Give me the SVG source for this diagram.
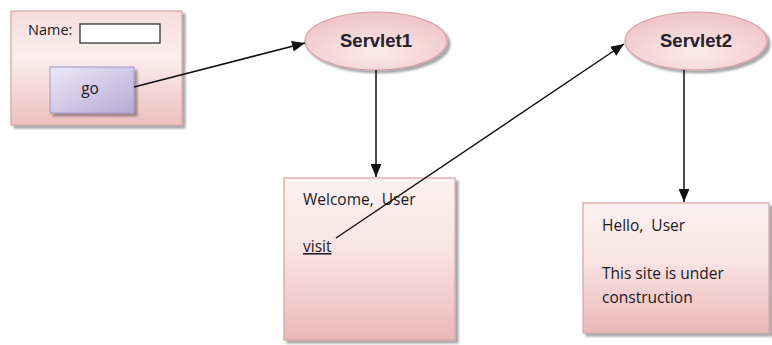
<svg xmlns="http://www.w3.org/2000/svg" width="772" height="345" viewBox="0 0 772 345">
<defs>
  <linearGradient id="boxG" x1="0" y1="0" x2="0" y2="1">
    <stop offset="0" stop-color="#fcf1f1"/>
    <stop offset="0.45" stop-color="#f9e3e3"/>
    <stop offset="1" stop-color="#ebb8b8"/>
  </linearGradient>
  <linearGradient id="box1G" x1="0" y1="0" x2="0" y2="1">
    <stop offset="0" stop-color="#f6dcdc"/>
    <stop offset="0.4" stop-color="#fbeeee"/>
    <stop offset="1" stop-color="#eebfbf"/>
  </linearGradient>
  <radialGradient id="ellG" cx="0.5" cy="0.7" r="0.7">
    <stop offset="0" stop-color="#fbeaea"/>
    <stop offset="1" stop-color="#efc3c4"/>
  </radialGradient>
  <linearGradient id="btnG" x1="0" y1="0" x2="1" y2="1">
    <stop offset="0" stop-color="#ece8f6"/>
    <stop offset="1" stop-color="#b6aad6"/>
  </linearGradient>
  <filter id="sh" x="-10%" y="-10%" width="125%" height="125%">
    <feGaussianBlur in="SourceAlpha" stdDeviation="1.2"/>
    <feOffset dx="2.5" dy="2.5" result="o"/>
    <feComponentTransfer><feFuncA type="linear" slope="0.35"/></feComponentTransfer>
    <feMerge><feMergeNode/><feMergeNode in="SourceGraphic"/></feMerge>
  </filter>
  <marker id="arr" viewBox="0 0 12 10" refX="12" refY="5" markerWidth="13" markerHeight="11" markerUnits="userSpaceOnUse" orient="auto">
    <path d="M0,0 L12,5 L0,10 z" fill="#111"/>
  </marker>
</defs>
<style>
  .box { fill: url(#boxG); stroke: #d6a3a3; stroke-width: 1.2; filter: url(#sh); }
  .ell { fill: url(#ellG); stroke: #d49c9e; stroke-width: 1.2; filter: url(#sh); }
  .t { font-family: "Open Sans", "Liberation Sans", sans-serif; font-size: 15.5px; fill: #1a1a24; }
  .tb { font-family: "Liberation Sans", "Open Sans", sans-serif; font-size: 18.5px; font-weight: bold; fill: #26222a; text-anchor: middle; }
  .conn { stroke: #111; stroke-width: 1.5; fill: none; marker-end: url(#arr); }
</style>

<g id="form">
  <rect x="11" y="11" width="171" height="114" style="fill:url(#box1G);stroke:#d6a3a3;stroke-width:1.2;filter:url(#sh)"/>
  <text class="t" x="28" y="35" style="font-size:14.5px">Name:</text>
  <rect x="80" y="24" width="80" height="19" fill="#ffffff" stroke="#222" stroke-width="1.2"/>
  <rect x="50" y="67" width="84" height="46" fill="url(#btnG)" stroke="#a294c8" stroke-width="1" filter="url(#sh)"/>
  <text class="t" x="90" y="94" text-anchor="middle">go</text>
</g>

<g id="servlet1">
  <ellipse class="ell" cx="376" cy="41" rx="71" ry="29"/>
  <text class="tb" x="376" y="47">Servlet1</text>
</g>

<g id="servlet2">
  <ellipse class="ell" cx="696" cy="41" rx="71" ry="29"/>
  <text class="tb" x="696" y="47">Servlet2</text>
</g>

<g id="welcome">
  <rect class="box" x="284" y="178" width="171" height="162"/>
  <text class="t" x="303" y="205" xml:space="preserve">Welcome,  User</text>
  <text class="t" x="303" y="252" text-decoration="underline">visit</text>
</g>

<g id="hello">
  <rect class="box" x="583" y="203" width="186" height="130"/>
  <text class="t" x="602" y="231" xml:space="preserve">Hello,  User</text>
  <text class="t" x="602" y="279">This site is under</text>
  <text class="t" x="602" y="303">construction</text>
</g>

<g id="connectors">
  <line class="conn" x1="134" y1="87" x2="305" y2="43"/>
  <line class="conn" x1="376" y1="70" x2="376" y2="177"/>
  <line class="conn" x1="336" y1="238" x2="624" y2="44"/>
  <line class="conn" x1="684" y1="70" x2="684" y2="202"/>
</g>
</svg>
